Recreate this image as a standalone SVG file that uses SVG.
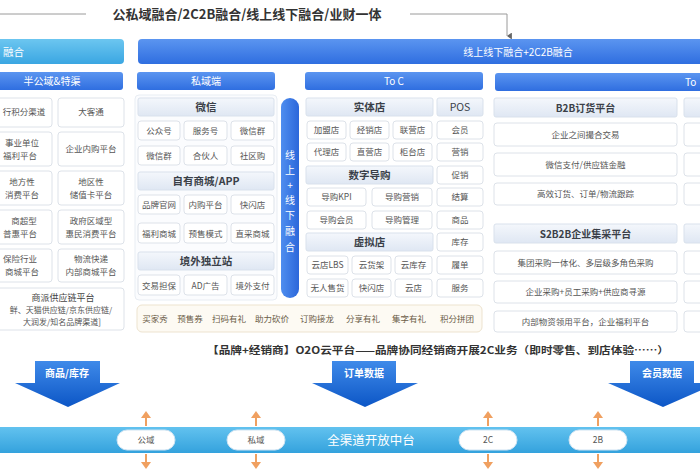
<svg xmlns="http://www.w3.org/2000/svg" width="700" height="470" viewBox="0 0 700 470">
<defs>
<linearGradient id="gBlue" x1="0" y1="0" x2="0" y2="1"><stop offset="0" stop-color="#5b95f0"/><stop offset="1" stop-color="#2f6ee0"/></linearGradient>
<linearGradient id="gCyan" x1="0" y1="0" x2="0" y2="1"><stop offset="0" stop-color="#6cc6f0"/><stop offset="1" stop-color="#3aa6e2"/></linearGradient>
<linearGradient id="gHead" x1="0" y1="0" x2="0" y2="1"><stop offset="0" stop-color="#f4f7fc"/><stop offset="1" stop-color="#dfe7f3"/></linearGradient>
<linearGradient id="gPill" x1="0" y1="0" x2="1" y2="0"><stop offset="0" stop-color="#4f8eef"/><stop offset="1" stop-color="#2c67da"/></linearGradient>
<linearGradient id="gArrow" x1="0" y1="0" x2="0" y2="1"><stop offset="0" stop-color="#3f8ae9"/><stop offset="1" stop-color="#0c56c6"/></linearGradient>
<linearGradient id="gBand" x1="0" y1="0" x2="0" y2="1"><stop offset="0" stop-color="#62c2ef"/><stop offset="1" stop-color="#34a2dd"/></linearGradient>
<marker id="mk" viewBox="0 0 10 10" refX="5" refY="9" markerWidth="7" markerHeight="7" orient="auto-start-reverse"><path d="M0,2 L5,9 L10,2 Z" fill="#666"/></marker>
<style>
text{font-family:"Noto Sans CJK SC","Liberation Sans",sans-serif;}
.b{fill:#fff;stroke:#dde2e9;stroke-width:1;}
.h{fill:url(#gHead);stroke:#d9e1ec;stroke-width:1;}
.bar{fill:url(#gBlue);}
.t{font-size:8.5px;fill:#555;text-anchor:middle;}
.ht{font-size:10.5px;font-weight:bold;fill:#3a3f48;text-anchor:middle;}
.wt{font-size:10px;fill:#fff;text-anchor:middle;}
.pill{fill:#fff;stroke:#cfe3f2;}
.oa{stroke:#f0a060;stroke-width:2;fill:none;}
.oh{fill:#f0a060;}
.arr{fill:url(#gArrow);}
.at{font-size:10px;font-weight:bold;fill:#fff;text-anchor:middle;}
.pt{font-size:8.5px;fill:#6b5d48;text-anchor:middle;}
</style>
</defs>
<rect width="700" height="470" fill="#fff"/>

<g id="connectors">
<line x1="0" y1="14" x2="86" y2="14" stroke="#9a9a9a" stroke-width="1"/>
<polyline points="410,14 507,14 507,36" fill="none" stroke="#9a9a9a" stroke-width="1" marker-end="url(#mk)"/>
<line class="oa" x1="146" y1="415" x2="146" y2="426"/><path class="oh" d="M141,418 L146,411 L151,418 Z"/>
<line class="oa" x1="146" y1="454" x2="146" y2="465"/><path class="oh" d="M141,462 L146,469 L151,462 Z"/>
<line class="oa" x1="256" y1="415" x2="256" y2="426"/><path class="oh" d="M251,418 L256,411 L261,418 Z"/>
<line class="oa" x1="256" y1="454" x2="256" y2="465"/><path class="oh" d="M251,462 L256,469 L261,462 Z"/>
<line class="oa" x1="488" y1="415" x2="488" y2="426"/><path class="oh" d="M483,418 L488,411 L493,418 Z"/>
<line class="oa" x1="488" y1="454" x2="488" y2="465"/><path class="oh" d="M483,462 L488,469 L493,462 Z"/>
<line class="oa" x1="598" y1="415" x2="598" y2="426"/><path class="oh" d="M593,418 L598,411 L603,418 Z"/>
<line class="oa" x1="598" y1="454" x2="598" y2="465"/><path class="oh" d="M593,462 L598,469 L603,462 Z"/>
</g>

<g id="title"><text x="247" y="19" font-size="13" font-weight="bold" fill="#333" text-anchor="middle">公私域融合/2C2B融合/线上线下融合/业财一体</text></g>

<g id="topbars">
<rect x="-10" y="39" width="134" height="25" rx="4" fill="url(#gCyan)"/>
<text x="3" y="56" font-size="10.5" fill="#fff">融合</text>
<rect x="138" y="39" width="580" height="25" rx="4" fill="url(#gBlue)"/>
<text x="518" y="56" class="wt">线上线下融合+2C2B融合</text>
</g>

<g id="sec-left">
<rect class="bar" x="-10" y="72" width="133" height="18" rx="3"/>
<text x="52" y="85" class="wt">半公域&amp;特渠</text>
<rect class="b" x="-10" y="98" width="62" height="29" rx="3"/><text class="t" x="24" y="115">行积分渠道</text>
<rect class="b" x="58" y="98" width="66" height="29" rx="3"/><text class="t" x="91" y="115">大客通</text>
<rect class="b" x="-10" y="132" width="62" height="34" rx="3"/><text class="t" x="22" y="146">事业单位</text><text class="t" x="20" y="159">福利平台</text>
<rect class="b" x="58" y="132" width="66" height="34" rx="3"/><text class="t" x="91" y="152">企业内购平台</text>
<rect class="b" x="-10" y="171" width="62" height="34" rx="3"/><text class="t" x="22" y="185">地方性</text><text class="t" x="22" y="198">消费平台</text>
<rect class="b" x="58" y="171" width="66" height="34" rx="3"/><text class="t" x="91" y="185">地区性</text><text class="t" x="91" y="198">储值卡平台</text>
<rect class="b" x="-10" y="210" width="62" height="34" rx="3"/><text class="t" x="24" y="224">商超型</text><text class="t" x="20" y="237">普惠平台</text>
<rect class="b" x="-10" y="249" width="62" height="33" rx="3"/><text class="t" x="20" y="262">保险行业</text><text class="t" x="22" y="275">商城平台</text>
<rect class="b" x="58" y="210" width="66" height="34" rx="3"/><text class="t" x="91" y="224">政府区域型</text><text class="t" x="91" y="237">惠民消费平台</text>
<rect class="b" x="58" y="249" width="66" height="33" rx="3"/><text class="t" x="91" y="262">物流快递</text><text class="t" x="91" y="275">内部商城平台</text>
<rect class="b" x="-10" y="288" width="134" height="42" rx="3"/>
<text class="t" x="63" y="301" style="fill:#444;font-size:9px">商派供应链平台</text>
<text class="t" x="61" y="313" style="font-size:8px">鲜、天猫供应链/京东供应链/</text>
<text class="t" x="62" y="325" style="font-size:8px">大润发/知名品牌渠道]</text>
</g>

<g id="sec-private">
<rect class="bar" x="137" y="72" width="138" height="18" rx="3"/>
<text x="206" y="85" class="wt">私域端</text>
<rect x="135" y="95" width="142" height="205" rx="4" fill="#fbfcfe" stroke="#e8edf3"/>
<rect class="h" x="138" y="98" width="136" height="18" rx="2"/><text class="ht" x="206" y="111">微信</text>
<rect class="b" x="138" y="121" width="42" height="19" rx="3"/><text class="t" x="159" y="134">公众号</text>
<rect class="b" x="184" y="121" width="43" height="19" rx="3"/><text class="t" x="205.5" y="134">服务号</text>
<rect class="b" x="231" y="121" width="43" height="19" rx="3"/><text class="t" x="252.5" y="134">微信群</text>
<rect class="b" x="138" y="146" width="42" height="19" rx="3"/><text class="t" x="159" y="159">微信群</text>
<rect class="b" x="184" y="146" width="43" height="19" rx="3"/><text class="t" x="205.5" y="159">合伙人</text>
<rect class="b" x="231" y="146" width="43" height="19" rx="3"/><text class="t" x="252.5" y="159">社区购</text>
<rect class="h" x="138" y="172" width="136" height="18" rx="2"/><text class="ht" x="206" y="185">自有商城/APP</text>
<rect class="b" x="138" y="195" width="42" height="19" rx="3"/><text class="t" x="159" y="208">品牌官网</text>
<rect class="b" x="184" y="195" width="43" height="19" rx="3"/><text class="t" x="205.5" y="208">内购平台</text>
<rect class="b" x="231" y="195" width="43" height="19" rx="3"/><text class="t" x="252.5" y="208">快闪店</text>
<rect class="b" x="138" y="223" width="42" height="20" rx="3"/><text class="t" x="159" y="237">福利商城</text>
<rect class="b" x="184" y="223" width="43" height="20" rx="3"/><text class="t" x="205.5" y="237">预售模式</text>
<rect class="b" x="231" y="223" width="43" height="20" rx="3"/><text class="t" x="252.5" y="237">直采商城</text>
<rect class="h" x="138" y="252" width="136" height="18" rx="2"/><text class="ht" x="206" y="265">境外独立站</text>
<rect class="b" x="138" y="275" width="42" height="20" rx="3"/><text class="t" x="159" y="289">交易担保</text>
<rect class="b" x="184" y="275" width="43" height="20" rx="3"/><text class="t" x="205.5" y="289">AD广告</text>
<rect class="b" x="231" y="275" width="43" height="20" rx="3"/><text class="t" x="252.5" y="289">境外支付</text>
</g>

<g id="pill-online-offline">
<rect x="281" y="98" width="18" height="200" rx="9" fill="url(#gPill)"/>
<g font-size="10" fill="#fff" text-anchor="middle">
<text x="290" y="159">线</text><text x="290" y="174">上</text><text x="290" y="189">+</text><text x="290" y="204">线</text><text x="290" y="219">下</text><text x="290" y="235">融</text><text x="290" y="251">合</text>
</g>
</g>

<g id="sec-toc">
<rect class="bar" x="305" y="72" width="178" height="18" rx="3"/>
<text x="394" y="85" class="wt">To C</text>
<rect class="h" x="306" y="98" width="127" height="18" rx="2"/><text class="ht" x="369.5" y="111">实体店</text>
<rect class="h" x="437" y="98" width="46" height="18" rx="2"/><text class="ht" x="460" y="111" style="font-weight:normal">POS</text>
<rect class="b" x="307" y="121" width="39" height="18" rx="3"/><text class="t" x="326.5" y="133">加盟店</text>
<rect class="b" x="350" y="121" width="39" height="18" rx="3"/><text class="t" x="369.5" y="133">经销店</text>
<rect class="b" x="393" y="121" width="39" height="18" rx="3"/><text class="t" x="412.5" y="133">联营店</text>
<rect class="b" x="307" y="143" width="39" height="18" rx="3"/><text class="t" x="326.5" y="155">代理店</text>
<rect class="b" x="350" y="143" width="39" height="18" rx="3"/><text class="t" x="369.5" y="155">直营店</text>
<rect class="b" x="393" y="143" width="39" height="18" rx="3"/><text class="t" x="412.5" y="155">柜台店</text>
<rect class="h" x="306" y="166" width="127" height="18" rx="2"/><text class="ht" x="369.5" y="179">数字导购</text>
<rect class="b" x="307" y="188" width="59" height="18" rx="3"/><text class="t" x="336.5" y="200">导购KPI</text>
<rect class="b" x="372" y="188" width="60" height="18" rx="3"/><text class="t" x="402" y="200">导购营销</text>
<rect class="b" x="307" y="211" width="59" height="18" rx="3"/><text class="t" x="336.5" y="223">导购会员</text>
<rect class="b" x="372" y="211" width="60" height="18" rx="3"/><text class="t" x="402" y="223">导购管理</text>
<rect class="h" x="306" y="233" width="127" height="18" rx="2"/><text class="ht" x="369.5" y="246">虚拟店</text>
<rect class="b" x="307" y="256" width="41" height="18" rx="3"/><text class="t" x="327.5" y="268">云店LBS</text>
<rect class="b" x="352" y="256" width="39" height="18" rx="3"/><text class="t" x="371.5" y="268">云货架</text>
<rect class="b" x="395" y="256" width="37" height="18" rx="3"/><text class="t" x="413.5" y="268">云库存</text>
<rect class="b" x="307" y="279" width="41" height="18" rx="3"/><text class="t" x="327.5" y="291">无人售货</text>
<rect class="b" x="352" y="279" width="39" height="18" rx="3"/><text class="t" x="371.5" y="291">快闪店</text>
<rect class="b" x="395" y="279" width="37" height="18" rx="3"/><text class="t" x="413.5" y="291">云店</text>
<rect class="b" x="437" y="121" width="46" height="18" rx="3"/><text class="t" x="460" y="133">会员</text>
<rect class="b" x="437" y="143" width="46" height="18" rx="3"/><text class="t" x="460" y="155">营销</text>
<rect class="b" x="437" y="166" width="46" height="18" rx="3"/><text class="t" x="460" y="178">促销</text>
<rect class="b" x="437" y="188" width="46" height="18" rx="3"/><text class="t" x="460" y="200">结算</text>
<rect class="b" x="437" y="211" width="46" height="18" rx="3"/><text class="t" x="460" y="223">商品</text>
<rect class="b" x="437" y="233" width="46" height="18" rx="3"/><text class="t" x="460" y="245">库存</text>
<rect class="b" x="437" y="256" width="46" height="18" rx="3"/><text class="t" x="460" y="268">履单</text>
<rect class="b" x="437" y="279" width="46" height="18" rx="3"/><text class="t" x="460" y="291">服务</text>
</g>

<g id="sec-tob">
<rect class="bar" x="495" y="73" width="225" height="18" rx="3"/>
<text x="685" y="86" font-size="10" fill="#fff">To</text>
<rect class="h" x="494" y="98" width="183" height="19" rx="2"/><text class="ht" x="585.5" y="111.5" style="font-size:10px">B2B订货平台</text>
<rect class="b" x="494" y="123" width="183" height="23" rx="3"/><text class="t" x="585.5" y="137.5">企业之间撮合交易</text>
<rect class="b" x="494" y="153" width="183" height="23" rx="3"/><text class="t" x="585.5" y="167.5">微信支付/供应链金融</text>
<rect class="b" x="494" y="183" width="183" height="22" rx="3"/><text class="t" x="585.5" y="197">高效订货、订单/物流跟踪</text>
<rect class="h" x="494" y="224" width="183" height="19" rx="2"/><text class="ht" x="585.5" y="237.5" style="font-size:10px">S2B2B企业集采平台</text>
<rect class="b" x="494" y="251" width="183" height="23" rx="3"/><text class="t" x="585.5" y="265.5">集团采购一体化、多层级多角色采购</text>
<rect class="b" x="494" y="281" width="183" height="22" rx="3"/><text class="t" x="585.5" y="295">企业采购+员工采购+供应商寻源</text>
<rect class="b" x="494" y="311" width="183" height="21" rx="3"/><text class="t" x="585.5" y="324.5">内部物资领用平台，企业福利平台</text>
<rect class="h" x="684" y="98" width="40" height="19" rx="2"/>
<rect class="b" x="684" y="123" width="40" height="23" rx="3"/>
<rect class="b" x="684" y="153" width="40" height="23" rx="3"/>
<rect class="b" x="684" y="183" width="40" height="22" rx="3"/>
<rect class="h" x="684" y="224" width="40" height="19" rx="2"/>
<rect class="b" x="684" y="251" width="40" height="23" rx="3"/>
<rect class="b" x="684" y="281" width="40" height="22" rx="3"/>
<rect class="b" x="684" y="311" width="40" height="21" rx="3"/>
</g>

<g id="promo">
<rect x="137" y="305" width="345" height="27" rx="5" fill="#fdfaf3" stroke="#ede3cf"/>
<text class="pt" x="155" y="322">买家秀</text>
<text class="pt" x="190" y="322">预售券</text>
<text class="pt" x="229" y="322">扫码有礼</text>
<text class="pt" x="272" y="322">助力砍价</text>
<text class="pt" x="317" y="322">订购接龙</text>
<text class="pt" x="363" y="322">分享有礼</text>
<text class="pt" x="409" y="322">集字有礼</text>
<text class="pt" x="457" y="322">积分拼团</text>
</g>

<g id="o2o">
<text x="438" y="354" font-size="10" font-weight="bold" fill="#333" text-anchor="middle" textLength="462" lengthAdjust="spacingAndGlyphs">【品牌+经销商】O2O云平台——品牌协同经销商开展2C业务（即时零售、到店体验……）</text>
</g>

<g id="arrow-goods">
<path class="arr" d="M35,361 H100 V383 H120 L68,407 L15,383 H35 Z"/>
<text class="at" x="67" y="377">商品/库存</text>
</g>
<g id="arrow-orders">
<path class="arr" d="M332,361 H396 V383 H418 L365,407 L312,383 H332 Z"/>
<text class="at" x="364" y="377">订单数据</text>
</g>
<g id="arrow-members">
<path class="arr" d="M630,361 H694 V383 H718 L663,407 L608,383 H630 Z"/>
<text class="at" x="662" y="377">会员数据</text>
</g>

<g id="band">
<rect x="0" y="427" width="700" height="26" fill="url(#gBand)"/>
<text x="371" y="445" font-size="12.5" fill="#fff" text-anchor="middle">全渠道开放中台</text>
</g>
<g id="pill-public"><rect class="pill" x="117" y="430" width="58" height="20" rx="10"/><text class="t" x="146" y="443">公域</text></g>
<g id="pill-private"><rect class="pill" x="227" y="430" width="58" height="20" rx="10"/><text class="t" x="256" y="443">私域</text></g>
<g id="pill-2c"><rect class="pill" x="459" y="430" width="58" height="20" rx="10"/><text class="t" x="488" y="443">2C</text></g>
<g id="pill-2b"><rect class="pill" x="569" y="430" width="58" height="20" rx="10"/><text class="t" x="598" y="443">2B</text></g>
</svg>
